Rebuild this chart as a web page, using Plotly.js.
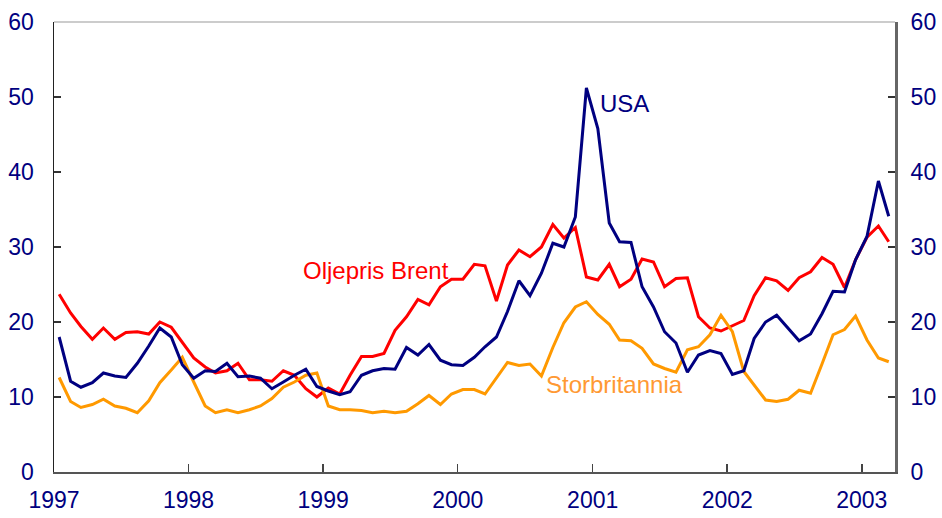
<!DOCTYPE html>
<html>
<head>
<meta charset="utf-8">
<script src="https://cdn.plot.ly/plotly-3.0.1.min.js"></script>
<style>html,body{margin:0;padding:0;background:#fff;}#chart{width:942px;height:518px;}</style>
</head>
<body>
<div id="chart"></div>
<script>
// Monthly observations, January 1997 to March 2003
const startYear = 1997;
const nMonths = 75;
const yearTicks = ['1997', '1998', '1999', '2000', '2001', '2002', '2003'];

const usa = [
  18.0, 12.1, 11.3, 11.9, 13.2, 12.8, 12.6, 14.5, 16.8, 19.2, 18.0, 14.3,
  12.5, 13.5, 13.4, 14.5, 12.7, 12.8, 12.5, 11.1, 12.0, 12.9, 13.7, 11.4,
  10.8, 10.3, 10.7, 12.9, 13.5, 13.8, 13.7, 16.6, 15.6, 17.0, 14.9, 14.3,
  14.2, 15.3, 16.7, 18.0, 21.4, 25.5, 23.5, 26.5, 30.5, 30.0, 34.0, 51.2,
  45.8, 33.2, 30.7, 30.6, 24.7, 22.0, 18.7, 17.2, 13.3, 15.6, 16.2, 15.8,
  13.0, 13.5, 17.8, 20.0, 20.9, 19.2, 17.5, 18.4, 21.1, 24.1, 24.0, 28.3,
  31.4, 38.8, 34.1
];
const brent = [
  23.7, 21.2, 19.4, 17.7, 19.2, 17.7, 18.6, 18.7, 18.4, 20.0, 19.3, 17.2,
  15.2, 14.0, 13.2, 13.5, 14.5, 12.3, 12.3, 12.1, 13.5, 12.9, 11.1, 10.0,
  11.2, 10.4, 12.9, 15.4, 15.4, 15.8, 18.9, 20.7, 23.0, 22.3, 24.7, 25.7,
  25.7, 27.7, 27.5, 22.8, 27.6, 29.6, 28.7, 30.0, 33.0, 31.2, 32.6, 26.0,
  25.6, 27.7, 24.7, 25.7, 28.4, 28.0, 24.7, 25.8, 25.9, 20.7, 19.2, 18.8,
  19.5, 20.2, 23.5, 25.9, 25.5, 24.2, 25.9, 26.7, 28.6, 27.7, 24.6, 28.3,
  31.3, 32.8, 30.7
];
const uk = [
  12.6, 9.4, 8.6, 9.0, 9.7, 8.8, 8.5, 7.9, 9.5, 11.9, 13.6, 15.3,
  12.0, 8.8, 7.9, 8.3, 7.9, 8.3, 8.8, 9.8, 11.3, 12.0, 12.9, 13.2,
  8.8, 8.3, 8.3, 8.2, 7.9, 8.1, 7.9, 8.1, 9.1, 10.2, 9.0, 10.4,
  11.0, 11.0, 10.4, 12.5, 14.6, 14.2, 14.4, 12.8, 16.6, 19.9, 22.0, 22.7,
  21.0, 19.7, 17.6, 17.5, 16.5, 14.4, 13.8, 13.3, 16.3, 16.7, 18.3, 20.9,
  18.7, 13.4, 11.6, 9.6, 9.4, 9.7, 10.9, 10.5, 14.4, 18.3, 19.0, 20.8,
  17.6, 15.2, 14.7
];

const seriesNames = ['USA', 'Oljepris Brent', 'Storbritannia'];

// mid-month dates
const dates = [];
for (let i = 0; i < nMonths; i++) {
  const y = startYear + Math.floor(i / 12);
  const m = (i % 12) + 1;
  dates.push(y + '-' + String(m).padStart(2, '0') + '-15');
}

const NAVY = '#000080', RED = '#FF0000', ORANGE = '#FF9900';
const FONT = 'Liberation Sans, Arial, sans-serif';

const traces = [
  {x: dates, y: brent, type: 'scatter', mode: 'lines', name: seriesNames[1], line: {color: RED, width: 3}},
  {x: dates, y: uk, type: 'scatter', mode: 'lines', name: seriesNames[2], line: {color: ORANGE, width: 3}},
  {x: dates, y: usa, type: 'scatter', mode: 'lines', name: seriesNames[0], line: {color: NAVY, width: 3}},
  {x: dates, y: usa, type: 'scatter', mode: 'lines', yaxis: 'y2', showlegend: false, hoverinfo: 'skip', line: {width: 0}, opacity: 0}
];

const yTicks = [0, 10, 20, 30, 40, 50, 60];

const layout = {
  width: 942, height: 518,
  margin: {l: 54, r: 47, t: 22, b: 46},
  paper_bgcolor: '#fff', plot_bgcolor: '#fff',
  showlegend: false,
  font: {family: FONT, color: NAVY, size: 23},
  xaxis: {
    type: 'date',
    range: ['1997-01-01', '2003-04-01'],
    tickvals: yearTicks.map(y => y + '-01-01'),
    ticktext: yearTicks,
    ticks: 'inside', ticklen: 8, tickwidth: 1.5, tickcolor: '#444',
    showline: true, linecolor: '#555', linewidth: 2,
    showgrid: false, zeroline: false,
    tickfont: {family: FONT, size: 23, color: NAVY},
    ticklabelstandoff: 6
  },
  yaxis: {
    range: [0, 60], tickvals: yTicks,
    ticks: 'inside', ticklen: 7, tickwidth: 1.5, tickcolor: '#333',
    showline: true, linecolor: '#222', linewidth: 1.5,
    showgrid: false, zeroline: false,
    tickfont: {family: FONT, size: 23, color: NAVY},
    ticklabelstandoff: 14
  },
  yaxis2: {
    range: [0, 60], tickvals: yTicks, overlaying: 'y', side: 'right',
    ticks: 'inside', ticklen: 7, tickwidth: 1.5, tickcolor: '#333',
    showline: true, linecolor: '#666', linewidth: 3,
    showgrid: false, zeroline: false,
    tickfont: {family: FONT, size: 23, color: NAVY},
    ticklabelstandoff: 8
  },
  shapes: [
    {type: 'line', xref: 'paper', yref: 'paper', x0: 0, x1: 1, y0: 1, y1: 1,
     line: {color: '#999', width: 1.2}}
  ],
  annotations: [
    {x: '2001-01-16', y: 49.2, xref: 'x', yref: 'y', text: seriesNames[0], showarrow: false,
     xanchor: 'left', yanchor: 'middle', font: {family: FONT, size: 24, color: NAVY}},
    {x: '1998-11-02', y: 26.9, xref: 'x', yref: 'y', text: seriesNames[1], showarrow: false,
     xanchor: 'left', yanchor: 'middle', font: {family: FONT, size: 24, color: RED}},
    {x: '2000-08-22', y: 11.7, xref: 'x', yref: 'y', text: seriesNames[2], showarrow: false,
     xanchor: 'left', yanchor: 'middle', font: {family: FONT, size: 24, color: '#FF9933'}}
  ]
};

Plotly.newPlot('chart', traces, layout, {displayModeBar: false, staticPlot: true});
</script>
</body>
</html>
